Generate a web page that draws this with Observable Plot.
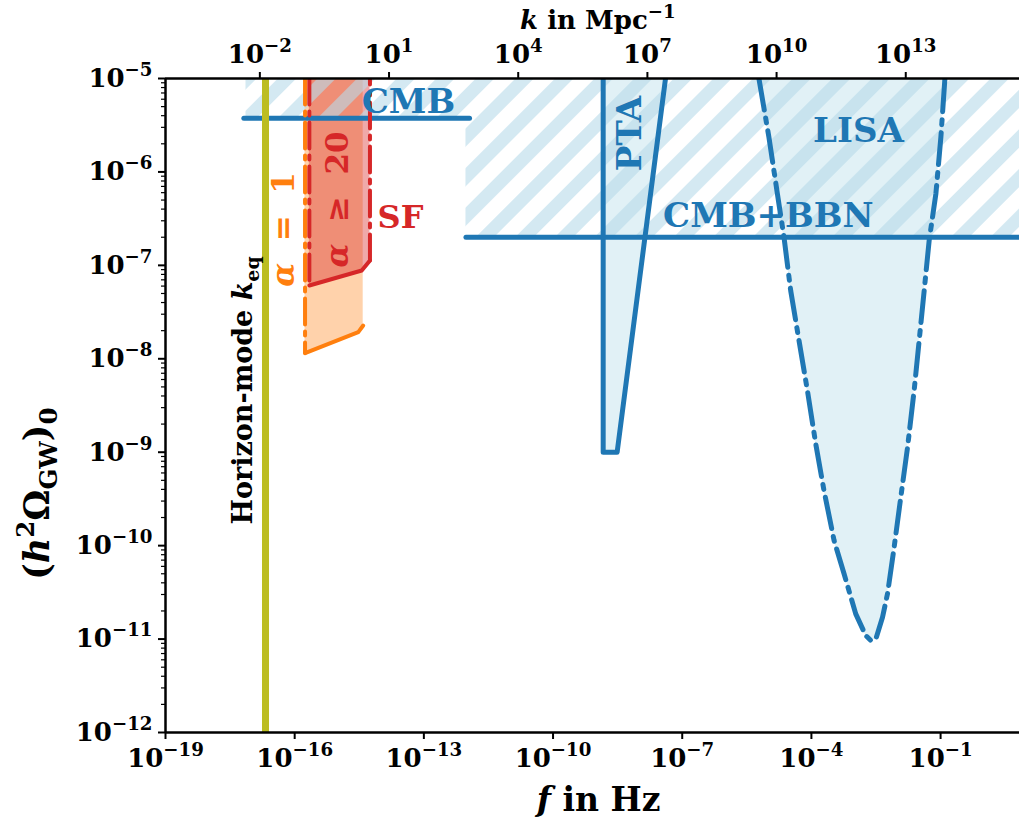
<!DOCTYPE html>
<html><head><meta charset="utf-8">
<script src="https://cdn.jsdelivr.net/npm/d3@7"></script>
<script src="https://cdn.jsdelivr.net/npm/@observablehq/plot@0.6"></script>
<style>body{margin:0;background:#fff}</style>
</head><body><div id="chart"></div>
<script>
// ---- axes / ticks ----
const fDomain = [1e-19, 6.8];
const omegaDomain = [1e-12, 1e-5];
const fTicks = [1e-19, 1e-16, 1e-13, 1e-10, 1e-7, 1e-4, 1e-1];
const kTicks = [1e-2, 1e1, 1e4, 1e7, 1e10, 1e13];
const omegaTicks = [1e-12, 1e-11, 1e-10, 1e-9, 1e-8, 1e-7, 1e-6, 1e-5];
const kPerHz = 6.44e14; // k [Mpc^-1] = 2π f / c

// ---- horizon mode ----
const horizonF = [2.1e-17];

// ---- CMB / CMB+BBN bounds ----
const cmbF = [6.6e-18, 1.15e-12];
const cmbOmega = 3.76e-6;
const cmbBbnF = [9.5e-13, 6.8];
const cmbBbnOmega = 2.0e-7;
const hatchF = [7.4e-18, 9.5e-13, 6.8];
const hatchOmega = [3.76e-6, 2.0e-7, 2.0e-7];

// ---- PTA ----
const ptaF = [1.46e-9, 1.46e-9, 3.08e-9, 4.09e-8];
const ptaOmega = [1e-5, 1e-9, 1e-9, 1e-5];

// ---- LISA ----
const lisaF = [6.04e-6, 1.03e-5, 1.62e-5, 2.31e-5, 3.30e-5, 5.15e-5, 8.07e-5, 1.26e-4, 1.96e-4, 3.36e-4, 5.73e-4, 1.07e-3, 1.83e-3, 2.39e-3, 3.13e-3, 4.48e-3, 5.85e-3, 8.34e-3, 1.19e-2, 1.71e-2, 2.43e-2, 3.18e-2, 4.16e-2, 5.43e-2, 7.78e-2, 0.1016, 0.126];
const lisaOmega = [1e-5, 2.36e-6, 5.87e-7, 2.0e-7, 5.38e-8, 1.57e-8, 4.58e-9, 1.23e-9, 3.89e-10, 1.135e-10, 5.0e-11, 1.86e-11, 1.09e-11, 9.66e-12, 1.0e-11, 1.71e-11, 3.05e-11, 9.6e-11, 3.3e-10, 1.13e-9, 4.58e-9, 1.57e-8, 5.38e-8, 1.85e-7, 5.87e-7, 2.36e-6, 1e-5];

// ---- SF regions ----
const sf1F = [1.74e-16, 3.0e-15, 3.9e-15];
const sf1Omega = [1.15e-8, 1.93e-8, 2.27e-8];
const sf20F = [2.19e-16, 3.61e-15, 5.6e-15];
const sf20Omega = [6.08e-8, 8.81e-8, 1.13e-7];

// ---- labels ----
const labels = [
  {key: "CMB", f: 4.4e-14, omega: 5.53e-6, rotate: 0, color: "#1f77b4", size: 34},
  {key: "CMB+BBN", f: 1.0e-5, omega: 3.33e-7, rotate: 0, color: "#1f77b4", size: 34},
  {key: "LISA", f: 1.24e-3, omega: 2.71e-6, rotate: 0, color: "#1f77b4", size: 34},
  {key: "PTA", f: 6.3e-9, omega: 2.58e-6, rotate: -90, color: "#1f77b4", size: 34},
  {key: "SF", f: 2.87e-14, omega: 3.25e-7, rotate: 0, color: "#d62728", size: 32},
  {key: "ALPHA20", f: 1.04e-15, omega: 5.07e-7, rotate: -90, color: "#d62728", size: 31},
  {key: "ALPHA1", f: 5.8e-17, omega: 2.42e-7, rotate: -90, color: "#ff7f0e", size: 31},
  {key: "HORIZON", f: 6.5e-18, omega: 4.58e-9, rotate: -90, color: "black", size: 27}
];
const rich = {
  "CMB": "CMB",
  "CMB+BBN": "CMB+BBN",
  "LISA": "LISA",
  "PTA": "PTA",
  "SF": "SF",
  "ALPHA20": "<i>α</i>  ≥  20",
  "ALPHA1": "<i>α</i>  =  1",
  "HORIZON": "Horizon-mode <i>k</i><sub>eq</sub>",
  "YLABEL": "(<i>h</i><sup>2</sup>Ω<sub>GW</sub>)<sub>0</sub>",
  "XLABEL": "<i>f</i> in Hz",
  "KLABEL": "<i>k</i> in Mpc<sup>−1</sup>"
};
const fontSizes = {YLABEL: 35, XLABEL: 33, KLABEL: 26};
labels.forEach(l => fontSizes[l.key] = l.size);
const tickFont = 26;

const blue = "#1f77b4", orange = "#ff7f0e", red = "#d62728", olive = "#bcbd22", lightBlue = "#add8e6", hatchBlue = "#b7dbe9";
const minorOmega = [];
for (let e = -12; e < -5; e++) for (let m = 2; m <= 9; m++) minorOmega.push(m * Math.pow(10, e));
const pow = v => "10^" + Math.round(Math.log10(v));

const defsMark = () => {
  const defs = d3.create("svg:defs");
  defs.html(`<pattern id="hatch" patternUnits="userSpaceOnUse" width="28" height="28" patternTransform="rotate(45)">
      <rect x="0" y="0" width="13" height="28" fill="${hatchBlue}" fill-opacity="0.6"></rect></pattern>`);
  return defs.node();
};

const chart = Plot.plot({
  width: 1019, height: 823,
  marginLeft: 165, marginRight: 0, marginTop: 78, marginBottom: 91,
  x: {type: "log", domain: fDomain, axis: null},
  y: {type: "log", domain: omegaDomain, axis: null},
  style: {fontFamily: "'DejaVu Serif', serif", fontWeight: "bold", fontSize: tickFont + "px", background: "white"},
  marks: [
    defsMark,
    // fills
    Plot.areaY(lisaF, {x: lisaF, y1: lisaOmega, y2: omegaDomain[1], fill: lightBlue, fillOpacity: 0.36, clip: true}),
    Plot.areaY([0, 1, 2], {x: i => ptaF[i + 1], y1: i => ptaOmega[i + 1], y2: omegaDomain[1], fill: lightBlue, fillOpacity: 0.36, clip: true}),
    Plot.areaY(sf1F, {x: sf1F, y1: sf1Omega, y2: omegaDomain[1], fill: orange, fillOpacity: 0.35, clip: true}),
    Plot.areaY(sf20F, {x: sf20F, y1: sf20Omega, y2: omegaDomain[1], fill: red, fillOpacity: 0.4, clip: true}),
    // hatched excluded region
    Plot.areaY(hatchF, {x: hatchF, y1: hatchOmega, y2: omegaDomain[1], curve: "step-after", fill: "url(#hatch)", clip: true}),
    // bound lines
    Plot.lineY(cmbF, {x: cmbF, y: cmbF.map(() => cmbOmega), stroke: blue, strokeWidth: 5, clip: true}),
    Plot.lineY(cmbBbnF, {x: cmbBbnF, y: cmbBbnF.map(() => cmbBbnOmega), stroke: blue, strokeWidth: 5, clip: true}),
    Plot.line(ptaF, {x: ptaF, y: ptaOmega, stroke: blue, strokeWidth: 5, strokeLinejoin: "round", clip: true}),
    Plot.line(lisaF, {x: lisaF, y: lisaOmega, stroke: blue, strokeWidth: 5, strokeDasharray: "32,8,5,8", clip: true}),
    // SF alpha = 1
    Plot.line([0, 1], {x: [sf1F[0], sf1F[0]], y: [omegaDomain[1], sf1Omega[0]], stroke: orange, strokeWidth: 4, strokeDasharray: "26,7,4,7", clip: true}),
    Plot.line(sf1F, {x: sf1F, y: sf1Omega, stroke: orange, strokeWidth: 4, strokeLinejoin: "round", clip: true}),
    // SF alpha >= 20
    Plot.line([0, 1], {x: [sf20F[0], sf20F[0]], y: [omegaDomain[1], sf20Omega[0]], stroke: red, strokeWidth: 4, strokeDasharray: "26,7,4,7", clip: true}),
    Plot.line(sf20F, {x: sf20F, y: sf20Omega, stroke: red, strokeWidth: 4, strokeLinejoin: "round", clip: true}),
    Plot.line([0, 1], {x: [sf20F[2], sf20F[2]], y: [sf20Omega[2], omegaDomain[1]], stroke: red, strokeWidth: 4, strokeDasharray: "26,7,4,7", clip: true}),
    // horizon mode
    Plot.ruleX(horizonF, {stroke: olive, strokeWidth: 7}),
    // spines
    Plot.ruleY(omegaDomain, {stroke: "black", strokeWidth: 2.5}),
    Plot.ruleX([fDomain[0]], {stroke: "black", strokeWidth: 2.5}),
    // axes
    Plot.axisX(fTicks, {anchor: "bottom", tickSize: 7, tickPadding: 9, strokeWidth: 2, tickFormat: pow, label: null}),
    Plot.axisX(kTicks.map(k => k / kPerHz), {anchor: "top", tickSize: 7, tickPadding: 9, strokeWidth: 2, tickFormat: f => pow(f * kPerHz), label: null}),
    Plot.axisY(omegaTicks, {anchor: "left", tickSize: 7, tickPadding: 6, strokeWidth: 2, tickFormat: pow, label: null}),
    Plot.axisY(minorOmega, {anchor: "left", tickSize: 4, strokeWidth: 1.2, tickFormat: () => "", label: null}),
    // labels
    ...labels.map(l => Plot.text([l], {x: "f", y: "omega", text: "key", rotate: l.rotate, fill: l.color, fontSize: l.size, textAnchor: "middle", lineAnchor: "middle"})),
    Plot.text(["YLABEL"], {y: [3.6e-10], text: d => d, frameAnchor: "left", dx: -128, rotate: -90, fontSize: 35, textAnchor: "middle", lineAnchor: "middle"}),
    Plot.text(["XLABEL"], {x: [1.14e-9], text: d => d, frameAnchor: "bottom", dy: 68, fontSize: 33, textAnchor: "middle", lineAnchor: "middle"}),
    Plot.text(["KLABEL"], {x: [1.1e-9], text: d => d, frameAnchor: "top", dy: -58, fontSize: 26, textAnchor: "middle", lineAnchor: "middle"})
  ]
});
document.getElementById("chart").appendChild(chart);

// rich text (superscripts, subscripts, italics)
function richify(el, markup, F) {
  const re = /<(i|sup|sub)>(.*?)<\/\1>|([^<]+)/g;
  let html = "", shift = 0;
  for (const m of markup.matchAll(re)) {
    const tag = m[1], content = m[2] !== undefined ? m[2] : m[3];
    const target = tag === "sup" ? -0.42 * F : tag === "sub" ? 0.24 * F : 0;
    const dy = target - shift; shift = target;
    const attrs = [];
    if (Math.abs(dy) > 1e-9) attrs.push(`dy="${dy.toFixed(2)}"`);
    if (tag === "sup" || tag === "sub") attrs.push(`font-size="${(0.7 * F).toFixed(2)}px"`);
    if (tag === "i") attrs.push(`font-style="italic"`);
    html += `<tspan ${attrs.join(" ")}>${content}</tspan>`;
  }
  el.innerHTML = html;
}
d3.select(chart).selectAll("text").each(function() {
  const t = this.textContent;
  const m = /^10\^(-?\d+)$/.exec(t);
  if (m) { richify(this, `10<sup>${m[1].replace("-", "−")}</sup>`, tickFont); return; }
  if (rich[t] !== undefined) richify(this, rich[t], fontSizes[t]);
});
</script>
</body></html>
